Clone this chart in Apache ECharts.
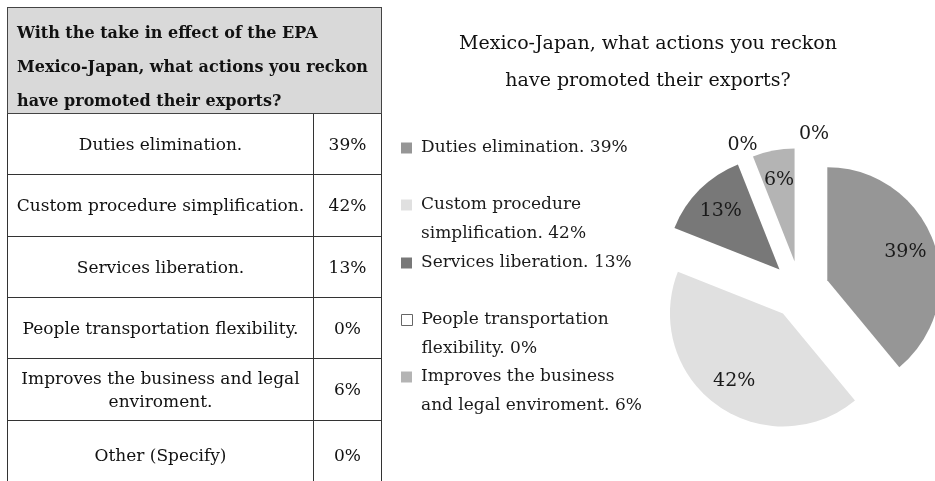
<!DOCTYPE html>
<html>
<head>
<meta charset="utf-8">
<script src="https://cdn.jsdelivr.net/npm/echarts@6/dist/echarts.min.js"></script>
<style>
  html, body { margin: 0; padding: 0; background: #fff; overflow: hidden; }
  #chart { position: absolute; left: 0; top: 0; width: 935px; height: 481px; z-index: 1; }
  #table {
    position: absolute; left: 7px; top: 7px; z-index: 2;
    border-collapse: collapse; table-layout: fixed;
    font-family: 'DejaVu Serif', serif; color: #111;
  }
  #table th {
    background: #d9d9d9; border: 1px solid #444; height: 105px;
    text-align: left; vertical-align: top; padding: 0 0 0 9px;
    font-size: 16px; white-space: nowrap;
  }
  #table th div { height: 105px; line-height: 34px; padding-top: 8px; box-sizing: border-box; overflow: visible; }
  #table td {
    border: 1px solid #333; padding: 0 6px; text-align: center;
    font-size: 17px; line-height: 23px;
  }
</style>
</head>
<body>
<table id="table"></table>
<div id="chart"></div>
<script>
// survey answers, same order as the table
var categories = [
  'Duties elimination.',
  'Custom procedure simplification.',
  'Services liberation.',
  'People transportation flexibility.',
  'Improves the business and legal enviroment.',
  'Other (Specify)'
];
var shares = [39, 42, 13, 0, 6, 0];
var headerLines = [
  'With the take in effect of the EPA',
  'Mexico-Japan, what actions you reckon',
  'have promoted their exports?'
];
var titleLines = ['Mexico-Japan, what actions you reckon', 'have promoted their exports?'];
// where the legend text wraps (first line), null = one line
var legendWrap = [null, 'Custom procedure', null, 'People transportation', 'Improves the business'];
var sliceColors = ['#969696', '#e0e0e0', '#787878', '#ffffff', '#b4b4b4', '#5a5a5a'];

// table
var rowHeights = [61, 62, 61, 61, 62, 70];
var colWidths = [306, 68];
var html = '<colgroup><col style="width:' + colWidths[0] + 'px"><col style="width:' + colWidths[1] + 'px"></colgroup>';
html += '<tr><th colspan="2"><div>' + headerLines.join('<br>') + '</div></th></tr>';
categories.forEach(function (c, i) {
  html += '<tr style="height:' + rowHeights[i] + 'px"><td>' + c + '</td><td>' + shares[i] + '%</td></tr>';
});
document.getElementById('table').innerHTML = html;

var font = 'DejaVu Serif';
var lh = 29;
var markerY = [148, 205, 263, 320, 377];

// wrapped items get an empty first line so the marker sits by the first text line
function legendText(i) {
  var full = categories[i] + ' ' + shares[i] + '%';
  if (!legendWrap[i]) return full;
  return '\n' + legendWrap[i] + '\n' + full.slice(legendWrap[i].length + 1);
}

var legends = [];
for (var i = 0; i < 5; i++) {
  var n = legendWrap[i] ? 3 : 1;
  var item = { name: categories[i] };
  if (shares[i] === 0) item.itemStyle = { color: '#ffffff', borderColor: '#666', borderWidth: 1 };
  legends.push({
    orient: 'vertical',
    left: 401,
    top: markerY[i] - n * lh / 2,
    padding: 0,
    itemWidth: 11,
    itemHeight: 11,
    icon: 'rect',
    selectedMode: false,
    data: [item],
    formatter: (function (k) { return function () { return legendText(k); }; })(i),
    textStyle: {
      fontFamily: font, fontSize: 17, color: '#1a1a1a', lineHeight: lh,
      padding: [0, 0, 0, 4]
    }
  });
}

var center = [800, 290];
var explode = 29;

function pieData(labelFor) {
  return categories.map(function (c, i) {
    var d = { name: c, value: shares[i], selected: true, label: { show: labelFor(i) } };
    // the last empty slice label is pushed aside so it clears the other one
    if (i === categories.length - 1) d.label.padding = [0, 0, 0, 28];
    return d;
  });
}

var labelStyle = {
  position: 'inside', formatter: '{c}%',
  fontFamily: font, fontSize: 19, color: '#1a1a1a'
};

var myChart = echarts.init(document.getElementById('chart'));
myChart.setOption({
  animation: false,
  title: {
    text: titleLines.join('\n'),
    left: 648, top: 26, padding: 0,
    textAlign: 'center',
    textStyle: { fontFamily: font, fontSize: 19, fontWeight: 'normal', color: '#111', lineHeight: 37 }
  },
  legend: legends,
  series: [
    {
      type: 'pie',
      center: center, radius: 113,
      selectedMode: 'multiple', selectedOffset: explode,
      silent: true,
      label: { show: false }, labelLine: { show: false },
      emphasis: { disabled: true },
      data: categories.map(function (c, i) {
        return { name: c, value: shares[i], selected: true, itemStyle: { color: sliceColors[i] } };
      })
    },
    {
      // labels of the visible slices, set deeper into the slice
      type: 'pie',
      center: center, radius: [48, 112],
      selectedMode: 'multiple', selectedOffset: explode,
      silent: true,
      itemStyle: { color: 'rgba(0,0,0,0)' },
      emphasis: { disabled: true },
      label: labelStyle, labelLine: { show: false },
      data: pieData(function (i) { return shares[i] > 0; })
    },
    {
      // labels of the empty slices, outside the pie
      type: 'pie',
      center: center, radius: [116, 132],
      selectedMode: 'multiple', selectedOffset: explode,
      silent: true,
      itemStyle: { color: 'rgba(0,0,0,0)' },
      emphasis: { disabled: true },
      label: labelStyle, labelLine: { show: false },
      data: pieData(function (i) { return shares[i] === 0; })
    }
  ]
});
</script>
</body>
</html>
